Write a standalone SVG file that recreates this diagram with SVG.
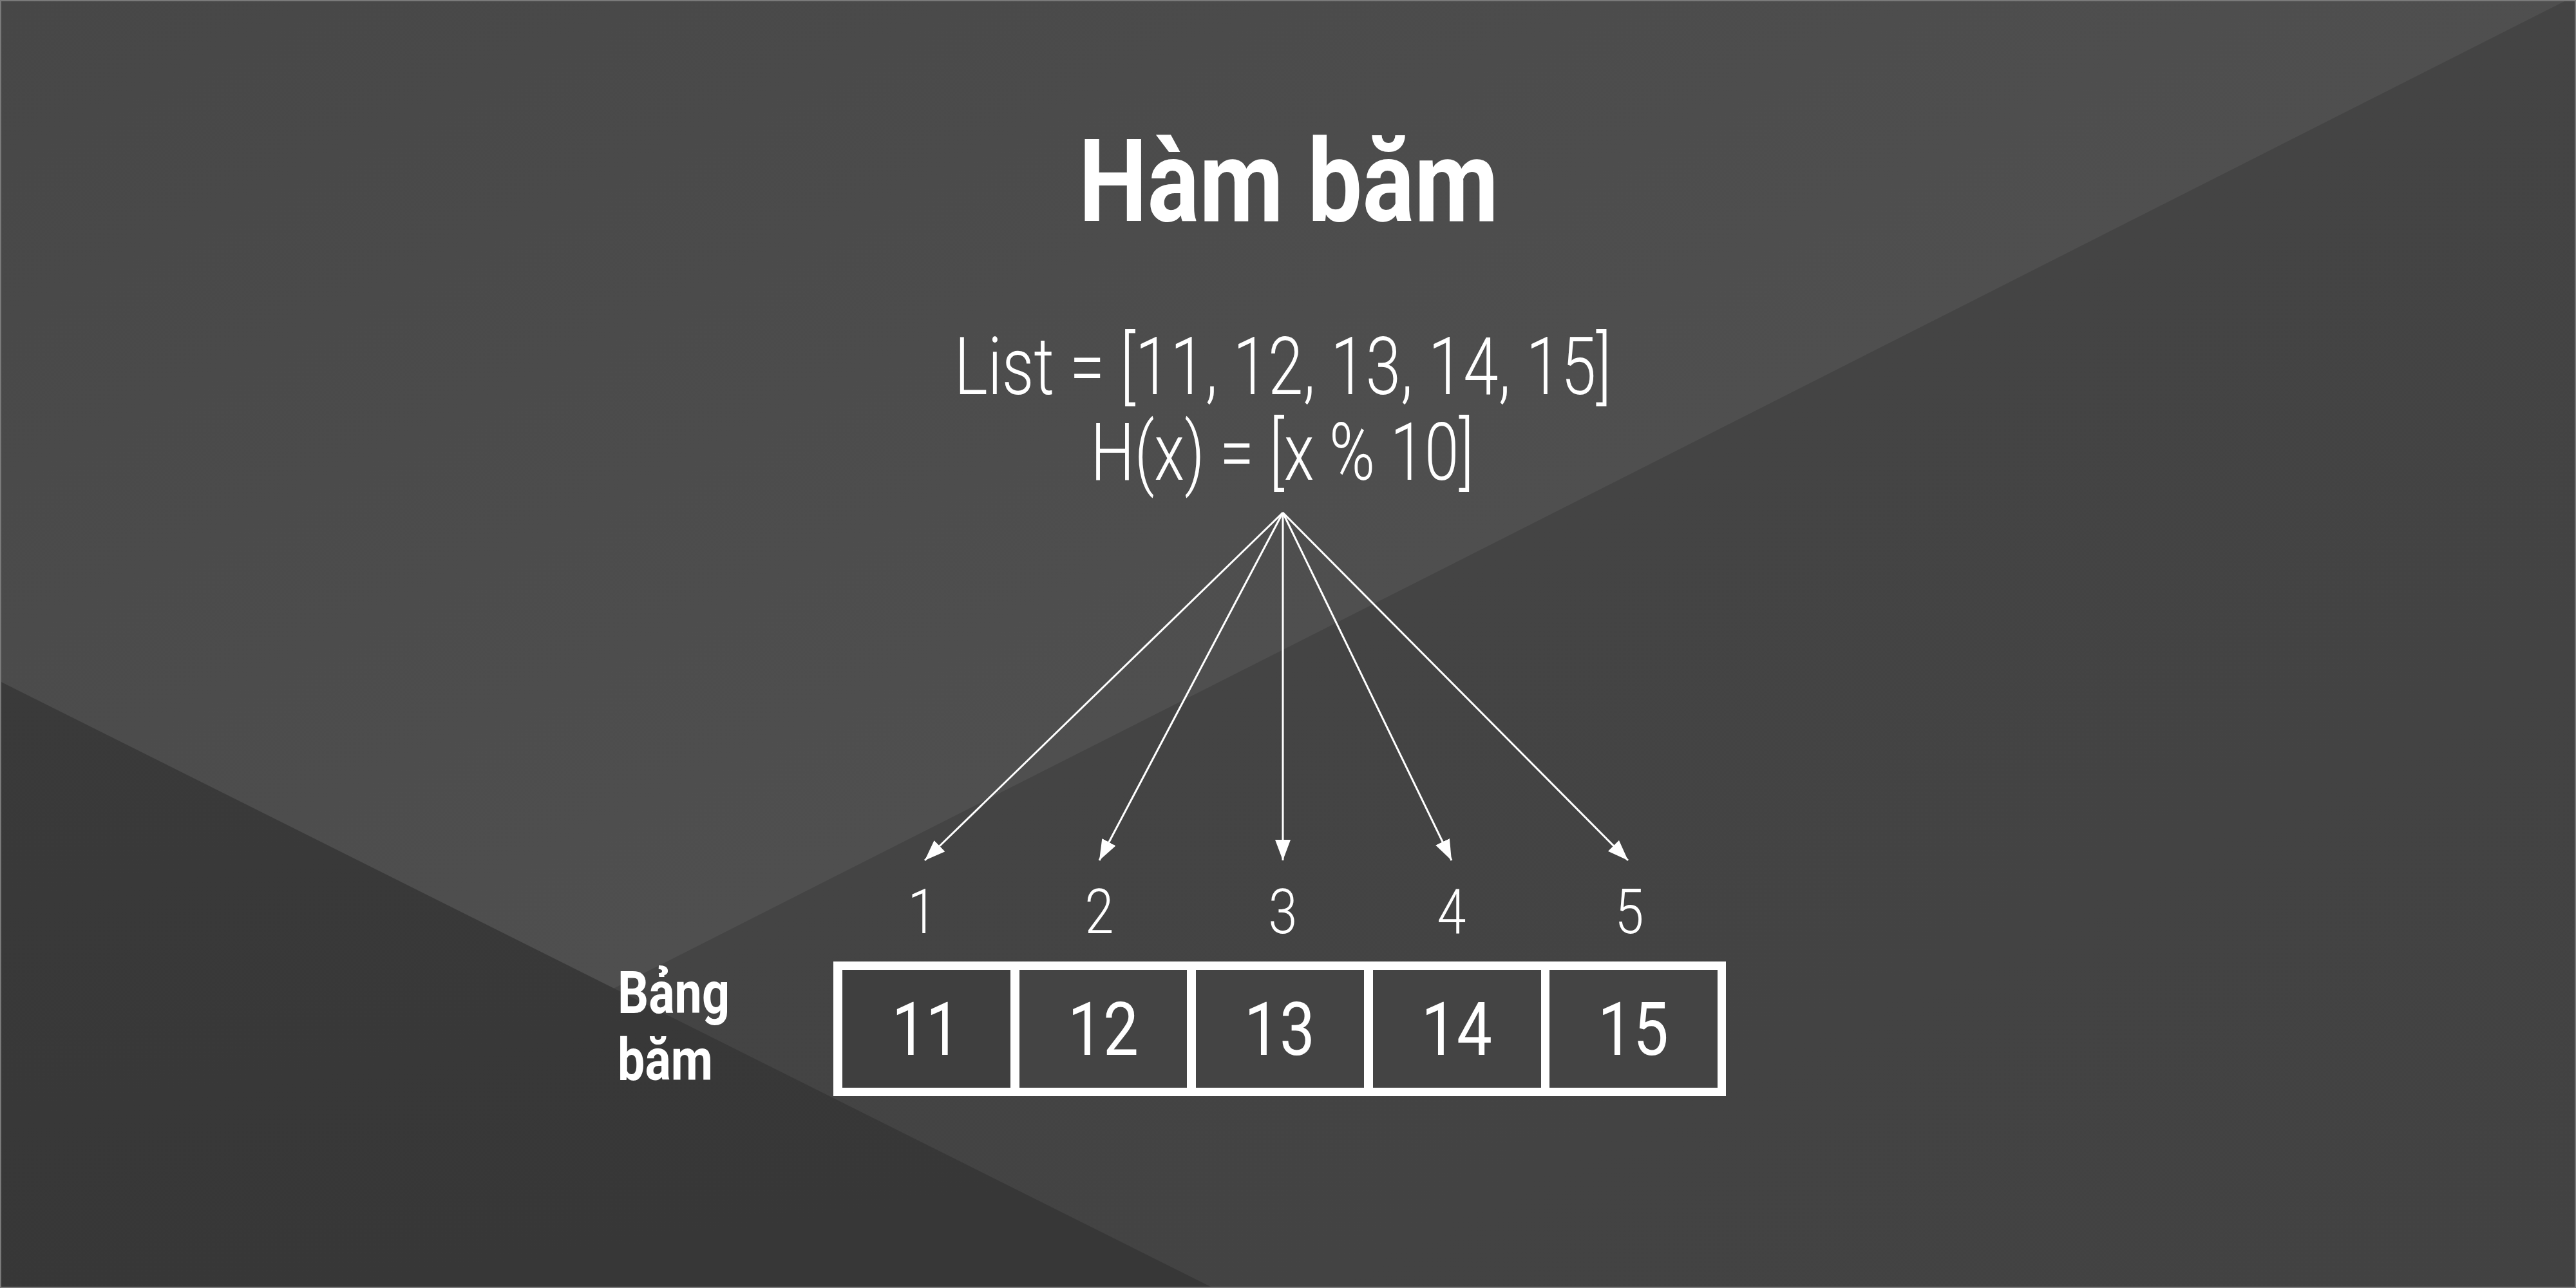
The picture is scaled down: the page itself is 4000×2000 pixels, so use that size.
<svg xmlns="http://www.w3.org/2000/svg" width="4000" height="2000" viewBox="0 0 4000 2000">
  <defs>
    <style>
      .title { font-family: Roboto, "Liberation Sans", sans-serif; font-weight: 700; fill: #ffffff; }
      .light { font-family: Roboto, "Liberation Sans", sans-serif; font-weight: 300; fill: #ffffff; }
      .cell-text { font-family: Roboto, "Liberation Sans", sans-serif; font-weight: 400; fill: #ffffff; font-size: 115px; text-anchor: middle; }
      .idx { font-family: Roboto, "Liberation Sans", sans-serif; font-weight: 300; fill: #ffffff; font-size: 97px; text-anchor: middle; }
      .conn { stroke: #ffffff; stroke-width: 3; fill: none; marker-end: url(#arrow); }
      .cell { fill: #444444; }
    </style>
    <marker id="arrow" markerUnits="userSpaceOnUse" markerWidth="34" markerHeight="26" refX="32" refY="12" orient="auto">
      <path d="M0,0 L32,12 L0,24 z" fill="#ffffff"/>
    </marker>
    <linearGradient id="gTop" x1="0" y1="0" x2="1" y2="1">
      <stop offset="0" stop-color="#474747"/>
      <stop offset="0.5" stop-color="#4f4f4f"/>
      <stop offset="1" stop-color="#4a4a4a"/>
    </linearGradient>
    <linearGradient id="gRight" x1="0" y1="0" x2="1" y2="1">
      <stop offset="0" stop-color="#464646"/>
      <stop offset="1" stop-color="#424242"/>
    </linearGradient>
    <linearGradient id="gDark" x1="0" y1="0" x2="0.3" y2="1">
      <stop offset="0" stop-color="#3a3a3a"/>
      <stop offset="1" stop-color="#373737"/>
    </linearGradient>
  </defs>

  <g id="background">
    <rect x="0" y="0" width="4000" height="2000" fill="url(#gTop)"/>
    <polygon points="3986,0 4000,0 4000,2000 0,2000 0,2017" fill="url(#gRight)"/>
    <polygon points="0,1058 1884,2000 0,2000" fill="url(#gDark)"/>
    <rect x="1" y="1" width="3998" height="1998" fill="none" stroke="#7a7a7a" stroke-width="2"/>
  </g>

  <g id="title">
    <text class="title" x="2001" y="343" font-size="178" text-anchor="middle" textLength="652" lengthAdjust="spacingAndGlyphs">Hàm băm</text>
  </g>

  <g id="source">
    <text class="light" x="1992" y="612" font-size="125" text-anchor="middle" textLength="1020" lengthAdjust="spacingAndGlyphs">List = [11, 12, 13, 14, 15]</text>
    <text class="light" x="1991" y="745" font-size="125" text-anchor="middle" textLength="595" lengthAdjust="spacingAndGlyphs">H(x) = [x % 10]</text>
  </g>

  <g id="connectors">
    <line class="conn" x1="1992" y1="796" x2="1436" y2="1336"/>
    <line class="conn" x1="1992" y1="796" x2="1707" y2="1336"/>
    <line class="conn" x1="1992" y1="796" x2="1992" y2="1336"/>
    <line class="conn" x1="1992" y1="796" x2="2254" y2="1336"/>
    <line class="conn" x1="1992" y1="796" x2="2528" y2="1336"/>
  </g>

  <g id="indices">
    <text class="idx" x="1432" y="1449" textLength="45" lengthAdjust="spacingAndGlyphs">1</text>
    <text class="idx" x="1707" y="1449" textLength="45" lengthAdjust="spacingAndGlyphs">2</text>
    <text class="idx" x="1992" y="1449" textLength="45" lengthAdjust="spacingAndGlyphs">3</text>
    <text class="idx" x="2254" y="1449" textLength="45" lengthAdjust="spacingAndGlyphs">4</text>
    <text class="idx" x="2530" y="1449" textLength="45" lengthAdjust="spacingAndGlyphs">5</text>
  </g>

  <g id="table-label">
    <text class="title" x="959" y="1573" font-size="90" textLength="174" lengthAdjust="spacingAndGlyphs">Bảng</text>
    <text class="title" x="959" y="1677" font-size="90" textLength="148" lengthAdjust="spacingAndGlyphs">băm</text>
  </g>

  <g id="hash-table">
    <rect x="1294" y="1493" width="1386" height="209" fill="#ffffff"/>
    <g id="cell-1">
      <rect class="cell" x="1308" y="1506" width="261" height="183" fill="#3f3f3f" style="fill:#3f3f3f"/>
      <text class="cell-text" x="1438" y="1638" textLength="106" lengthAdjust="spacingAndGlyphs">11</text>
    </g>
    <g id="cell-2">
      <rect class="cell" x="1583" y="1506" width="260" height="183"/>
      <text class="cell-text" x="1713" y="1638" textLength="110" lengthAdjust="spacingAndGlyphs">12</text>
    </g>
    <g id="cell-3">
      <rect class="cell" x="1857" y="1506" width="261" height="183"/>
      <text class="cell-text" x="1987" y="1638" textLength="110" lengthAdjust="spacingAndGlyphs">13</text>
    </g>
    <g id="cell-4">
      <rect class="cell" x="2132" y="1506" width="261" height="183"/>
      <text class="cell-text" x="2262" y="1638" textLength="110" lengthAdjust="spacingAndGlyphs">14</text>
    </g>
    <g id="cell-5">
      <rect class="cell" x="2406" y="1506" width="261" height="183"/>
      <text class="cell-text" x="2536" y="1638" textLength="110" lengthAdjust="spacingAndGlyphs">15</text>
    </g>
  </g>
</svg>
